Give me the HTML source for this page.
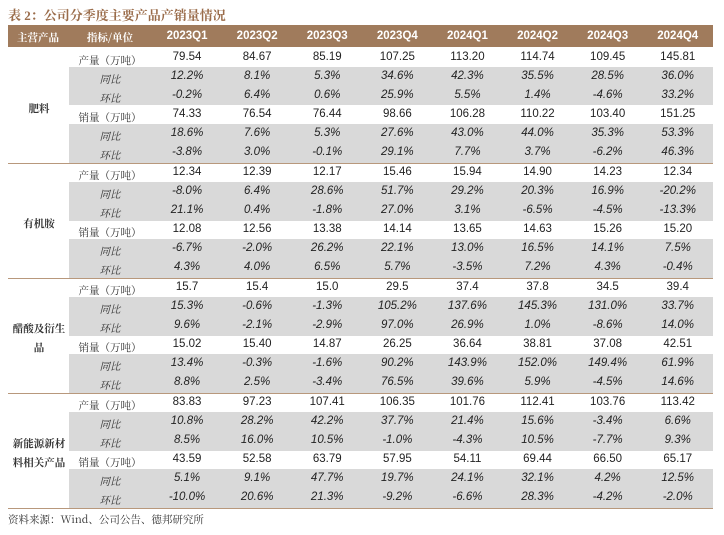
<!DOCTYPE html>
<html><head><meta charset="utf-8"><style>
body{margin:0;background:#fff;width:724px;height:535px;position:relative;overflow:hidden;font-family:"Liberation Sans","Noto Sans CJK SC",sans-serif;}
.t{position:absolute;left:8px;top:5px;font-family:"Liberation Serif","Noto Serif CJK SC",serif;font-weight:bold;font-size:13px;color:#9a6c4a;}
.hd{position:absolute;left:8px;top:25px;width:705px;height:22px;background:#a07b5c;}
.c{position:absolute;text-align:center;font-size:11.5px;color:#222;line-height:19px;}
.h{color:#fff;font-weight:bold;font-size:11.5px;line-height:22px;top:25px;}
.g{position:absolute;background:#d9d9d9;}
.ln{position:absolute;left:8px;width:705px;height:1px;background:#b8987c;}
.i{font-style:italic;}
.lab{font-family:"Noto Serif CJK SC",serif;font-size:10.5px;color:#333;padding-top:3px;box-sizing:border-box;}
.src{position:absolute;left:8px;top:512px;font-size:10.5px;color:#333;font-family:"Noto Serif CJK SC",serif;}
</style></head><body>
<div class="t">表 2：公司分季度主要产品产销量情况</div>
<div class="hd"></div>
<div id="tb"></div>
<div class="src">资料来源：Wind、公司公告、德邦研究所</div>
<script>
const quarters=["2023Q1","2023Q2","2023Q3","2023Q4","2024Q1","2024Q2","2024Q3","2024Q4"];
const products=["肥料","有机胺","醋酸及衍生品","新能源新材料相关产品"];
const productLabels=["肥料","有机胺","醋酸及衍生<br>品","新能源新材<br>料相关产品"];
const rowLabels=["产量（万吨）","同比","环比","销量（万吨）","同比","环比"];
const values=[
["79.54","84.67","85.19","107.25","113.20","114.74","109.45","145.81"],
["12.2%","8.1%","5.3%","34.6%","42.3%","35.5%","28.5%","36.0%"],
["-0.2%","6.4%","0.6%","25.9%","5.5%","1.4%","-4.6%","33.2%"],
["74.33","76.54","76.44","98.66","106.28","110.22","103.40","151.25"],
["18.6%","7.6%","5.3%","27.6%","43.0%","44.0%","35.3%","53.3%"],
["-3.8%","3.0%","-0.1%","29.1%","7.7%","3.7%","-6.2%","46.3%"],
["12.34","12.39","12.17","15.46","15.94","14.90","14.23","12.34"],
["-8.0%","6.4%","28.6%","51.7%","29.2%","20.3%","16.9%","-20.2%"],
["21.1%","0.4%","-1.8%","27.0%","3.1%","-6.5%","-4.5%","-13.3%"],
["12.08","12.56","13.38","14.14","13.65","14.63","15.26","15.20"],
["-6.7%","-2.0%","26.2%","22.1%","13.0%","16.5%","14.1%","7.5%"],
["4.3%","4.0%","6.5%","5.7%","-3.5%","7.2%","4.3%","-0.4%"],
["15.7","15.4","15.0","29.5","37.4","37.8","34.5","39.4"],
["15.3%","-0.6%","-1.3%","105.2%","137.6%","145.3%","131.0%","33.7%"],
["9.6%","-2.1%","-2.9%","97.0%","26.9%","1.0%","-8.6%","14.0%"],
["15.02","15.40","14.87","26.25","36.64","38.81","37.08","42.51"],
["13.4%","-0.3%","-1.6%","90.2%","143.9%","152.0%","149.4%","61.9%"],
["8.8%","2.5%","-3.4%","76.5%","39.6%","5.9%","-4.5%","14.6%"],
["83.83","97.23","107.41","106.35","101.76","112.41","103.76","113.42"],
["10.8%","28.2%","42.2%","37.7%","21.4%","15.6%","-3.4%","6.6%"],
["8.5%","16.0%","10.5%","-1.0%","-4.3%","10.5%","-7.7%","9.3%"],
["43.59","52.58","63.79","57.95","54.11","69.44","66.50","65.17"],
["5.1%","9.1%","47.7%","19.7%","24.1%","32.1%","4.2%","12.5%"],
["-10.0%","20.6%","21.3%","-9.2%","-6.6%","28.3%","-4.2%","-2.0%"]
];
const tb=document.getElementById('tb');
const top0=47.5,rh=19.17,c0=152,cw=70.1;
function mk(cls,txt,x,y,w,h){const d=document.createElement('div');d.className=cls;d.innerHTML=txt;d.style.left=x+'px';d.style.top=y+'px';d.style.width=w+'px';if(h)d.style.height=h+'px';tb.appendChild(d);return d;}
let e;
e=mk('c h lab','主营产品',8,25,60);e.style.color='#fff';e.style.paddingTop='2px';


e=mk('c h lab','指标/单位',68,25,84);e.style.color='#fff';e.style.paddingTop='2px';


quarters.forEach((q,j)=>{e=mk('c h',q,c0+j*cw,25,cw);

});
values.forEach((row,i)=>{
  const y=top0+i*rh, k=i%6, gray=(k!==0&&k!==3);
  if(gray){e=mk('g','',69,y,644,rh+0.5);
  
  }
  e=mk('c lab'+(gray?' i':''),rowLabels[k],68,y,84);
  
  
  row.forEach((v,j)=>{e=mk('c'+(gray?' i':''),v,c0+j*cw,y,cw);
  
  });
});
products.forEach((p,g)=>{
  const y=top0+g*6*rh;
  e=mk('c lab',productLabels[g],8,y+3*rh-(g>=2?19:9.5),62);
  e.style.fontWeight='bold';e.style.lineHeight='19px';
  
  
  e=mk('ln','',8,y+6*rh,705);
  
  
});
</script>
</body></html>
